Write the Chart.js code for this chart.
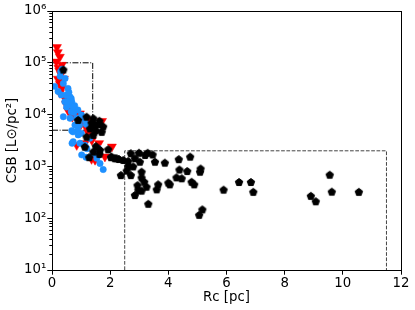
<!DOCTYPE html>
<html><head><meta charset="utf-8">
<script src="https://cdn.jsdelivr.net/npm/chart.js@4.4.1/dist/chart.umd.min.js"></script>
<style>html,body{margin:0;padding:0;background:#fff;}</style>
</head><body>
<canvas id="c" width="415" height="310"></canvas>
<script>
// ---- data ----
const redRc  = [0.17,0.20,0.27,0.15,0.34,0.22,0.31,0.20,0.41,0.27,0.34,0.27,0.41,0.48,0.62,0.79,0.96,1.24,1.48,1.72,1.19,1.25,1.37,1.62,1.13,0.85,2.06,1.36,1.48,1.82,0.50,0.55,0.70,1.00,1.55,0.30,0.25];
const redCSB = [200000,160000,130000,105000,91000,80000,60000,49000,49000,39000,32000,26000,22000,16000,13400,10700,10500,7900,6300,7500,5400,4400,3200,2800,2800,2570,2400,1380,1330,1540,20000,12000,9000,6500,1900,45000,70000];

const blueRc  = [0.30,0.39,0.09,0.55,0.21,0.49,0.32,0.62,0.66,0.44,0.68,0.61,0.78,0.50,0.73,0.89,0.66,1.01,0.39,0.62,0.84,1.12,0.79,0.95,1.18,0.89,0.68,0.72,1.01,0.90,0.73,0.96,1.13,1.02,1.42,1.54,1.59,1.54,1.65,1.76,0.35,0.45,0.28,0.58,0.75,0.52,1.30,1.20,0.69,1.17];
const blueCSB = [68000,40000,35000,32000,28000,24000,24000,22000,20500,17800,17700,15400,14900,14000,14000,12300,11400,9800,9100,8500,8500,7900,6300,6300,6500,5000,4900,4650,4350,4060,3000,2800,2570,1670,1790,1790,2240,1440,1140,870,75000,50000,55000,27000,11000,18000,3500,2200,2800,1500];

const blackRc  = [0.39,0.90,1.19,1.42,1.63,1.36,1.48,1.63,1.76,1.51,1.71,1.31,1.42,1.19,1.51,1.65,1.42,1.63,1.93,2.05,2.22,1.28,1.13,
                  2.03,2.16,2.30,2.45,2.62,2.71,2.99,3.20,3.29,2.85,3.02,2.62,2.79,2.57,2.37,2.71,3.08,3.08,3.17,2.94,3.25,2.85,3.54,3.60,3.31,2.97,3.08,
                  3.46,3.88,4.36,4.75,4.38,4.65,5.11,5.09,4.28,4.46,4.00,4.05,3.65,4.80,4.89,5.90,6.43,6.84,6.92,5.17,5.06,8.90,9.07,9.55,9.62,10.55];
const blackCSB = [74000,7900,9100,8500,7600,6960,6300,6600,5900,5000,4650,5400,4060,3740,2460,2090,1930,1740,2140,1540,1440,1510,2400,
                  1510,1440,1390,1330,1270,1790,1830,1660,1830,1440,1230,1020,1000,830,680,680,790,610,505,435,405,280,1230,361,190,350,340,
                  1700,1180,1380,1540,870,815,910,790,615,590,487,450,450,505,450,356,500,500,323,148,116,270,212,690,325,323];

// boxes (region outlines)
const box1Rc  = [0, 1.4, 1.4, 0];
const box1CSB = [5000, 5000, 100000, 100000];
const box2Rc  = [2.5, 2.5, 11.5, 11.5];
const box2CSB = [10, 2000, 2000, 10];

// axes
const xTicks = [0, 2, 4, 6, 8, 10, 12];
const yMajor = [10, 100, 1000, 10000, 100000, 1000000];
const yMajorLabels = ['10\u00B9','10\u00B2','10\u00B3','10\u2074','10\u2075','10\u2076'];

// ---- helpers ----
const pts = (xs, ys) => xs.map((x, i) => ({x: x, y: ys[i]}));
function pentagon(r, color) {
  const s = 12;
  const c = document.createElement('canvas'); c.width = s; c.height = s;
  const g = c.getContext('2d');
  g.beginPath();
  for (let i = 0; i < 5; i++) {
    const a = -Math.PI / 2 + i * 2 * Math.PI / 5;
    const px = s / 2 + r * Math.cos(a), py = s / 2 + 0.4 + r * Math.sin(a);
    i ? g.lineTo(px, py) : g.moveTo(px, py);
  }
  g.closePath(); g.fillStyle = color; g.fill();
  g.lineWidth = 1; g.strokeStyle = color; g.stroke();
  return c;
}
const pent = pentagon(3.9, '#000');

const yAll = [];
for (let e = 1; e <= 5; e++) for (let k = 1; k <= 9; k++) yAll.push(k * Math.pow(10, e));
yAll.push(1e6);
const isMajor = v => yMajor.some(m => Math.abs(m - v) / m < 1e-9);

const FONT = 'DejaVu Sans';
const FS = 13.3;

const framePlugin = {
  id: 'frame',
  afterDraw(chart) {
    const {ctx, chartArea: a} = chart;
    const ys = chart.scales.y;
    ctx.save();
    ctx.strokeStyle = '#000'; ctx.lineWidth = 1;
    ctx.strokeRect(Math.round(a.left) + 0.5, Math.round(a.top) + 0.5, Math.round(a.right - a.left), Math.round(a.bottom - a.top));
    ctx.beginPath();
    yAll.forEach(v => {
      if (isMajor(v)) return;
      const y = Math.round(ys.getPixelForValue(v)) + 0.5;
      ctx.moveTo(a.left, y); ctx.lineTo(a.left - 2.7, y);
    });
    ctx.stroke();
    ctx.restore();
  }
};

new Chart(document.getElementById('c'), {
  type: 'scatter',
  data: { datasets: [
    { label: 'black', data: pts(blackRc, blackCSB), pointStyle: pent, pointRadius: 4.5, order: 0,
      backgroundColor: '#000', borderColor: '#000' },
    { label: 'blue', data: pts(blueRc, blueCSB), pointStyle: 'circle', pointRadius: 3.2, borderWidth: 0.5, order: 1,
      backgroundColor: '#1e90ff', borderColor: '#1e90ff' },
    { label: 'red', data: pts(redRc, redCSB), pointStyle: 'triangle', rotation: 180, pointRadius: 5.2, borderWidth: 0.5, order: 2,
      backgroundColor: '#ff0000', borderColor: '#ff0000' },
    { label: 'box1', data: pts(box1Rc, box1CSB), showLine: true, pointRadius: 0, borderColor: '#000', borderWidth: 1,
      borderDash: [6, 1.6, 1, 1.6], order: 3, fill: false },
    { label: 'box2', data: pts(box2Rc, box2CSB), showLine: true, pointRadius: 0, borderColor: '#444', borderWidth: 1,
      borderDash: [3.7, 1.6], order: 4, fill: false }
  ]},
  options: {
    responsive: false, animation: false, devicePixelRatio: 1,
    layout: { padding: { top: 11, right: 14, left: 0, bottom: 0 } },
    plugins: { legend: { display: false }, tooltip: { enabled: false } },
    scales: {
      x: {
        type: 'linear', min: 0, max: 12,
        afterBuildTicks: s => { s.ticks = xTicks.map(v => ({value: v})); },
        afterFit: s => { s.height = 40; },
        ticks: { color: '#000', font: { family: FONT, size: FS }, padding: 1, maxRotation: 0, autoSkip: false },
        grid: { drawOnChartArea: false, drawTicks: true, tickLength: 4.7, color: '#000' },
        border: { color: '#000' },
        title: { display: true, text: 'Rc [pc]', color: '#000', font: { family: FONT, size: FS }, padding: { top: 0, bottom: 4 } }
      },
      y: {
        type: 'logarithmic', min: 10, max: 1e6,
        afterBuildTicks: s => { s.ticks = yAll.map(v => ({value: v, major: isMajor(v)})); },
        afterFit: s => { s.width = 52; },
        ticks: { color: '#000', font: { family: FONT, size: FS }, padding: 1, autoSkip: false,
          callback: v => { const i = yMajor.findIndex(m => Math.abs(m - v) / m < 1e-9); return i >= 0 ? yMajorLabels[i] : ''; } },
        grid: { drawOnChartArea: false, drawTicks: true, tickLength: 4.7,
          color: c => (c.tick && isMajor(c.tick.value)) ? '#000' : 'rgba(0,0,0,0)' },
        border: { color: '#000' },
        title: { display: true, text: 'CSB [L\u2299/pc\u00B2]', color: '#000', font: { family: FONT, size: FS }, padding: { top: 5, bottom: 0 } }
      }
    }
  },
  plugins: [framePlugin]
});
</script>
</body></html>
